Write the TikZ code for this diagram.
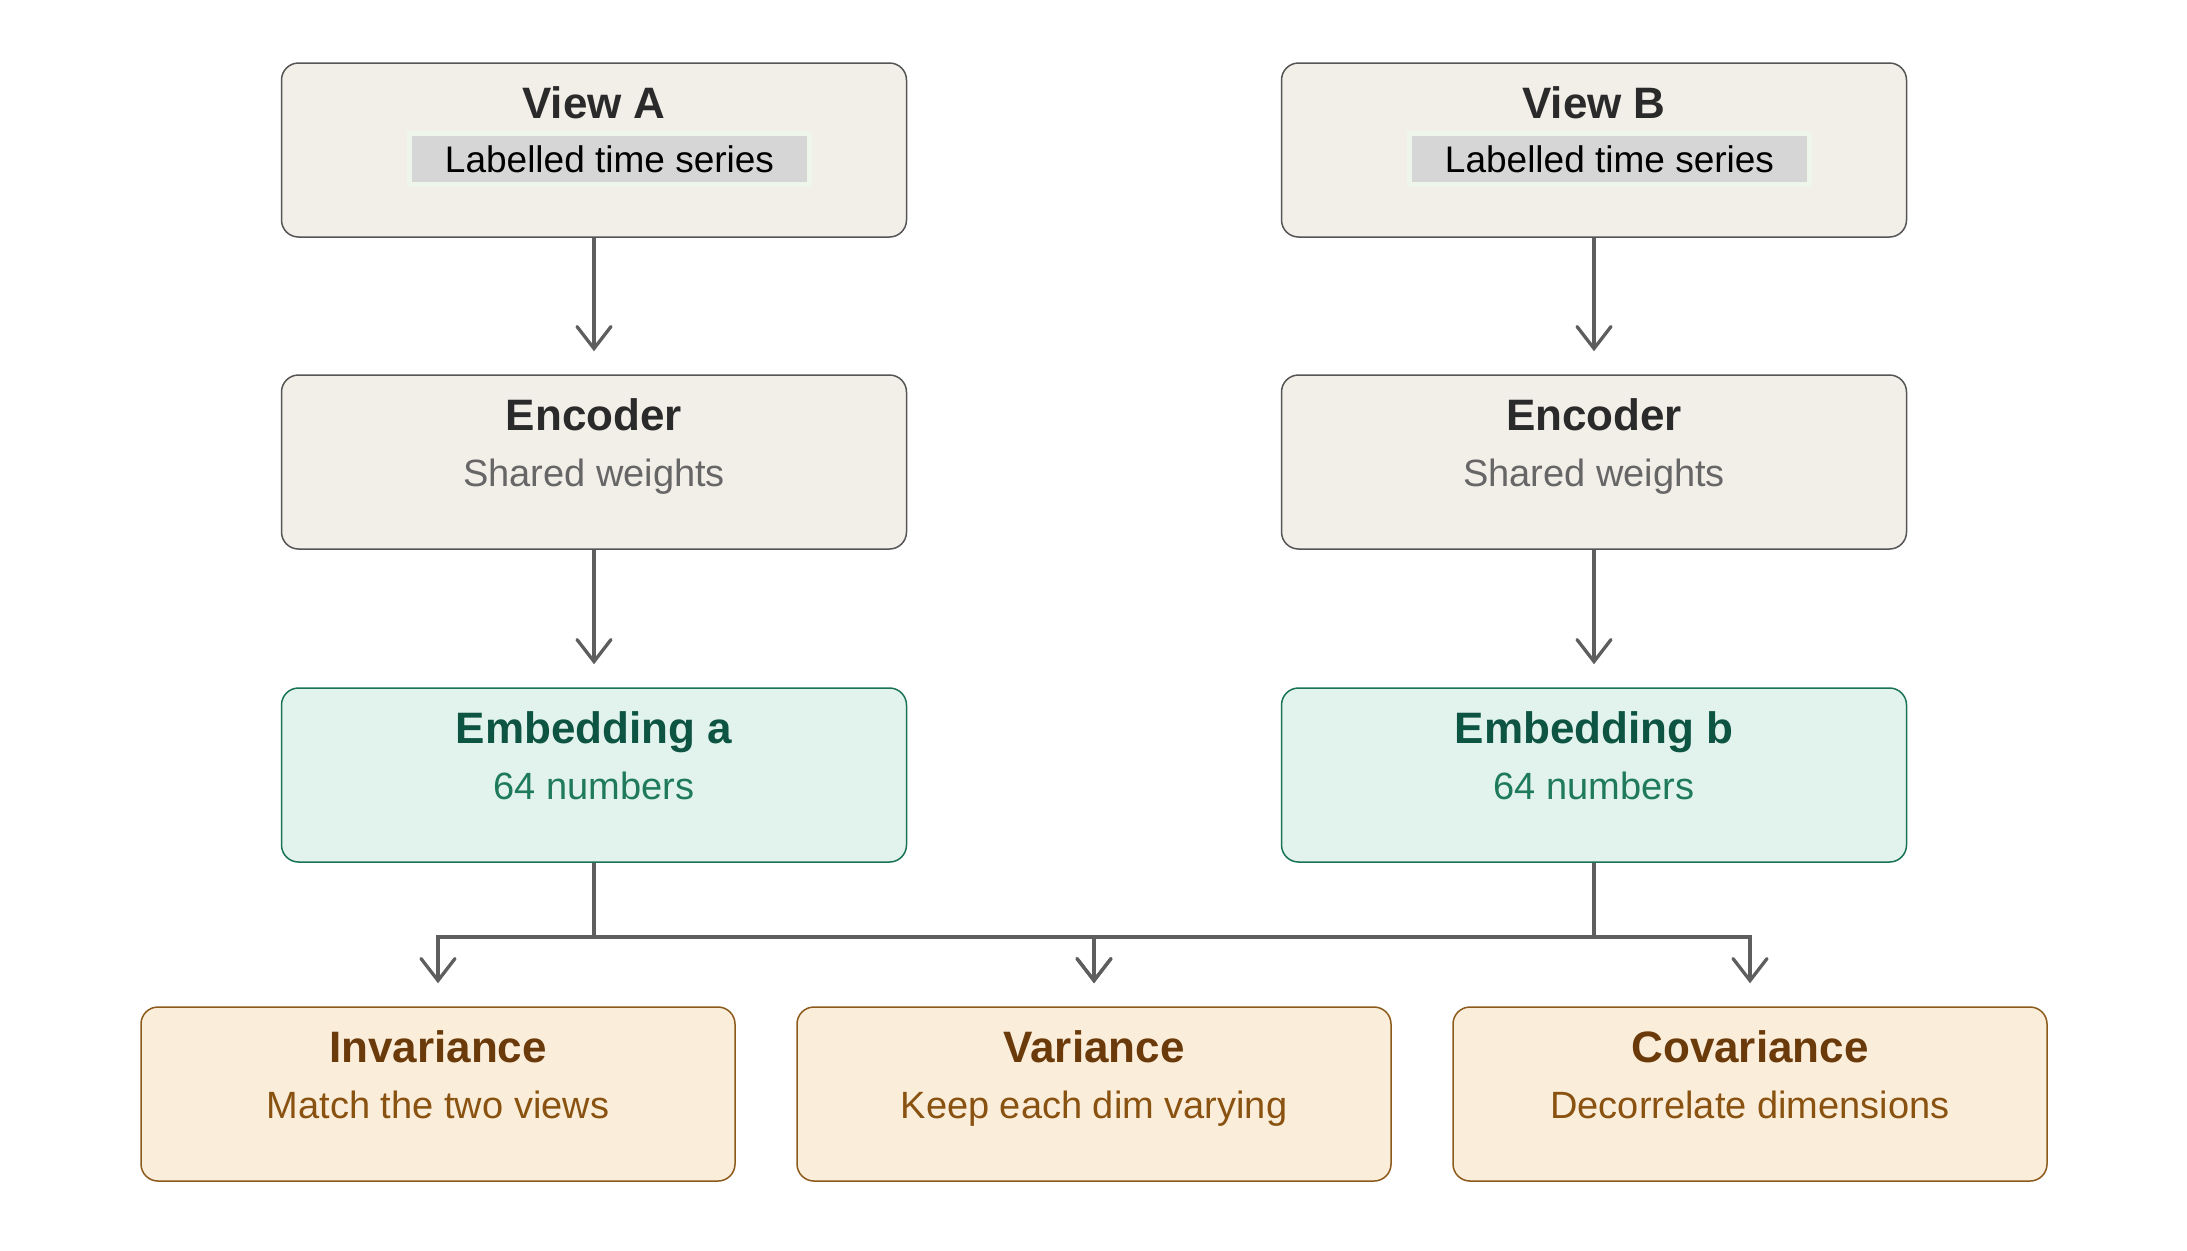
\documentclass[tikz,border=0pt]{standalone}
\usepackage{fontspec}
\setmainfont{Liberation Sans}
\usetikzlibrary{calc,arrows.meta}
\definecolor{nfill}{HTML}{F2EFE9}
\definecolor{ndraw}{HTML}{555555}
\definecolor{ntitle}{HTML}{2A2A2A}
\definecolor{nsub}{HTML}{666666}
\definecolor{gfill}{HTML}{E1F3EC}
\definecolor{gdraw}{HTML}{1A7358}
\definecolor{gtitle}{HTML}{0D5443}
\definecolor{gsub}{HTML}{1F7A5C}
\definecolor{ofill}{HTML}{FAEDDA}
\definecolor{odraw}{HTML}{8C5A1A}
\definecolor{otitle}{HTML}{6B3A0A}
\definecolor{osub}{HTML}{8A5210}
\definecolor{arrcol}{HTML}{5E5E5E}
\definecolor{lblfill}{HTML}{D6D6D6}
\definecolor{lbldraw}{HTML}{EEF6EC}
\tikzset{
  boxbase/.style={rectangle, rounded corners=8.5pt, line width=0.75pt, inner sep=0pt},
  wide/.style={boxbase, minimum width=312.5pt, minimum height=87pt},
  narrow/.style={boxbase, minimum width=297pt, minimum height=87pt},
  neutral/.style={fill=nfill, draw=ndraw},
  green/.style={fill=gfill, draw=gdraw},
  orange/.style={fill=ofill, draw=odraw},
  ttl/.style={anchor=base, font=\fontsize{22}{26}\selectfont\bfseries, inner sep=0pt},
  sub/.style={anchor=base, font=\fontsize{19}{23}\selectfont, inner sep=0pt},
  lbl/.style={fill=lblfill, draw=lbldraw, line width=2.5pt, minimum width=200pt, minimum height=25.5pt, inner sep=0pt, font=\fontsize{18.5}{22}\selectfont, text=black},
  arr/.style={draw=arrcol, line width=1.65pt, -{Straight Barb[length=11pt,width=17pt,line cap=round]}, shorten >=11.5pt}
}
\begin{document}
\begin{tikzpicture}[x=0.5pt,y=-0.5pt]
\useasboundingbox (0,0) rectangle (2187,1250);
% top row
\node[wide,neutral] (va) at (594,150) {};
\node[wide,neutral] (vb) at (1594,150) {};
\node[ttl,text=ntitle] (vat) at ($(va.north)+(0,56)$) {View A};
\node[ttl,text=ntitle] (vbt) at ($(vb.north)+(0,56)$) {View B};
\node[lbl] (val) at ($(va.north)+(15.5,97)$) {Labelled time series};
\node[lbl] (vbl) at ($(vb.north)+(15.5,97)$) {Labelled time series};
% encoders
\node[wide,neutral] (ea0) at (594,462) {};
\node[wide,neutral] (eb0) at (1594,462) {};
\node[ttl,text=ntitle] (ea0t) at ($(ea0.north)+(0,56)$) {Encoder};
\node[sub,text=nsub] (ea0s) at ($(ea0.north)+(0,112)$) {Shared weights};
\node[ttl,text=ntitle] (eb0t) at ($(eb0.north)+(0,56)$) {Encoder};
\node[sub,text=nsub] (eb0s) at ($(eb0.north)+(0,112)$) {Shared weights};
% embeddings
\node[wide,green] (ea) at (594,775) {};
\node[wide,green] (eb) at (1594,775) {};
\node[ttl,text=gtitle] (eat) at ($(ea.north)+(0,56)$) {Embedding a};
\node[sub,text=gsub] (eas) at ($(ea.north)+(0,112)$) {64 numbers};
\node[ttl,text=gtitle] (ebt) at ($(eb.north)+(0,56)$) {Embedding b};
\node[sub,text=gsub] (ebs) at ($(eb.north)+(0,112)$) {64 numbers};
% bottom row
\node[narrow,orange] (inv) at (438,1094) {};
\node[narrow,orange] (var) at (1094,1094) {};
\node[narrow,orange] (cov) at (1750,1094) {};
\node[ttl,text=otitle] (invt) at ($(inv.north)+(0,56)$) {Invariance};
\node[sub,text=osub] (invs) at ($(inv.north)+(0,112)$) {Match the two views};
\node[ttl,text=otitle] (vart) at ($(var.north)+(0,56)$) {Variance};
\node[sub,text=osub] (vars) at ($(var.north)+(0,112)$) {Keep each dim varying};
\node[ttl,text=otitle] (covt) at ($(cov.north)+(0,56)$) {Covariance};
\node[sub,text=osub] (covs) at ($(cov.north)+(0,112)$) {Decorrelate dimensions};
% connectors
\coordinate (brk) at (0,937);
\draw[arr] (va.south) -- (ea0.north);
\draw[arr] (vb.south) -- (eb0.north);
\draw[arr] (ea0.south) -- (ea.north);
\draw[arr] (eb0.south) -- (eb.north);
\draw[arr] (ea.south) -- (ea.south |- brk) -| (inv.north);
\draw[arr] (ea.south) -- (ea.south |- brk) -| (var.north);
\draw[arr] (eb.south) -- (eb.south |- brk) -| (cov.north);
\draw[arr] (eb.south) -- (eb.south |- brk) -| (var.north);
\end{tikzpicture}
\end{document}
